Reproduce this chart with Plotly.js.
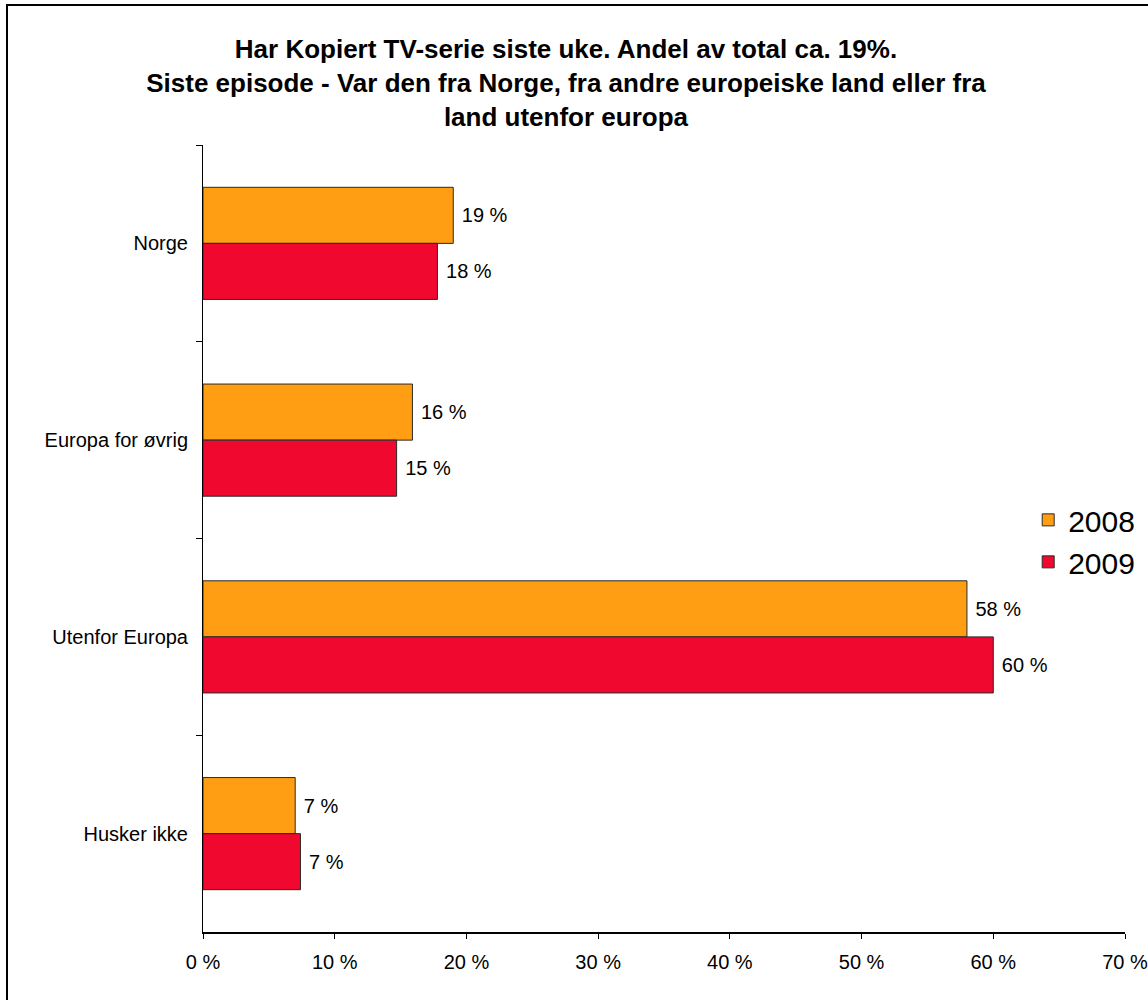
<!DOCTYPE html>
<html>
<head>
<meta charset="utf-8">
<script src="https://cdn.plot.ly/plotly-3.0.1.min.js"></script>
<style>
  html, body { margin: 0; padding: 0; background: #fff; overflow: hidden; }
  #frame { position: absolute; left: 6px; top: 4px; width: 1200px; height: 1100px;
           border-left: 2px solid #000; border-top: 2px solid #000; pointer-events: none; z-index: 5; }
  #chart { width: 1148px; height: 1000px; }
</style>
</head>
<body>
<div id="frame"></div>
<div id="chart"></div>
<script>
const categories = ["Norge", "Europa for øvrig", "Utenfor Europa", "Husker ikke"];
const series2008 = [19.0, 15.9, 58.0, 7.0];
const series2009 = [17.8, 14.7, 60.0, 7.4];
const seriesNames = ["2008", "2009"];
const xTickVals = [0, 10, 20, 30, 40, 50, 60, 70];
const xTickText = ["0 %", "10 %", "20 %", "30 %", "40 %", "50 %", "60 %", "70 %"];
const titleText = "<b>Har Kopiert TV-serie siste uke. Andel av total ca. 19%.<br>Siste episode - Var den fra Norge, fra andre europeiske land eller fra<br>land utenfor europa</b>";

const font = "Liberation Sans, Arial, sans-serif";

const mk = (name, vals, color) => ({
  type: "bar",
  orientation: "h",
  name: name,
  y: categories,
  x: vals,
  marker: { color: color, line: { color: "#2a2a2a", width: 1 } },
  text: vals.map(v => " " + Math.round(v) + " %"),
  textposition: "outside",
  textfont: { family: font, size: 20, color: "#000" },
  cliponaxis: false,
  hoverinfo: "x+y"
});

const data = [
  mk(seriesNames[0], series2008, "#FF9E12"),
  mk(seriesNames[1], series2009, "#F0082E")
];

const layout = {
  width: 1148, height: 1000,
  margin: { l: 203, r: 23, t: 145, b: 68, autoexpand: false },
  paper_bgcolor: "#fff", plot_bgcolor: "#fff",
  font: { family: font, color: "#000", size: 20 },
  barmode: "group",
  bargap: 0.43,
  bargroupgap: 0,
  title: {
    text: titleText,
    font: { family: font, size: 26, color: "#000" },
    x: 0.493, xanchor: "center", xref: "container",
    y: 0.942, yanchor: "top", yref: "container"
  },
  xaxis: {
    range: [0, 70],
    tickvals: xTickVals, ticktext: xTickText,
    ticks: "outside", ticklen: 5, tickcolor: "#000", tickwidth: 1,
    showgrid: false, zeroline: false,
    showline: true, linecolor: "#000", linewidth: 2,
    tickfont: { family: font, size: 20, color: "#000" },
    ticklabelstandoff: 6,
    ticklabeloverflow: "allow",
    fixedrange: true
  },
  yaxis: {
    autorange: "reversed",
    ticks: "outside", tickson: "boundaries", ticklen: 6, tickcolor: "#000", tickwidth: 1,
    showgrid: false, zeroline: false,
    showline: true, linecolor: "#000", linewidth: 1,
    tickfont: { family: font, size: 20, color: "#000" },
    ticklabelstandoff: 10,
    fixedrange: true
  },
  legend: {
    x: 0.895, xanchor: "left",
    y: 0.497, yanchor: "middle",
    font: { family: font, size: 30, color: "#000" },
    bgcolor: "rgba(0,0,0,0)",
    itemwidth: 30,
    tracegroupgap: 0
  },
  showlegend: true
};

Plotly.newPlot("chart", data, layout, { displayModeBar: false });
</script>
</body>
</html>
